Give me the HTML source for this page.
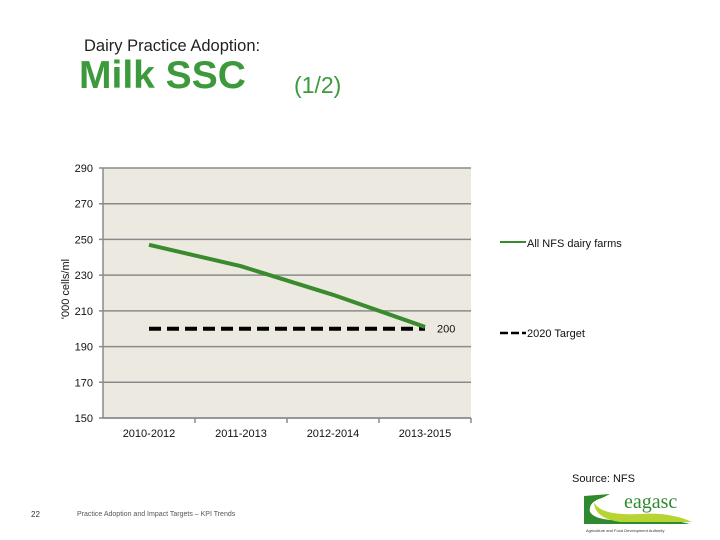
<!DOCTYPE html>
<html><head><meta charset="utf-8"><style>
body{margin:0;background:#fff;font-family:"Liberation Sans",sans-serif}
#wrap{position:relative;width:720px;height:540px;overflow:hidden}
.t{position:absolute;white-space:nowrap}
</style></head><body>
<div id="wrap">
<div class="t" style="left:84px;top:37px;font-size:16.5px;color:#222">Dairy Practice Adoption:</div>
<div class="t" style="left:79px;top:54px;font-size:39px;font-weight:bold;color:#3c9a3c">Milk SSC</div>
<div class="t" style="left:294px;top:72px;font-size:23px;color:#3c9a3c">(1/2)</div>
<svg id="chart" width="720" height="540" style="position:absolute;left:0;top:0"></svg>
<div class="t" style="left:572px;top:473px;font-size:11px;color:#111">Source: NFS</div>
<div class="t" style="left:31px;top:510px;font-size:8px;color:#333">22</div>
<div class="t" style="left:77px;top:511px;font-size:7px;color:#555">Practice Adoption and Impact Targets – KPI Trends</div>
<svg width="130" height="50" style="position:absolute;left:580px;top:488px">
<path d="M4 8 L30 6 L22 10 Q8 14 10 24 Q16 34 50 32 Q80 28 110 36 L4 36 Z" fill="#2f8a2f"/>
<path d="M14 14 Q20 28 60 26 Q90 24 112 34 L40 34 Q14 30 14 14Z" fill="#b8d432"/>
<text x="44" y="20" font-size="20" font-family="Liberation Serif,serif" fill="#2f8a2f">eagasc</text>
<text x="6" y="44" font-size="4" fill="#333">Agriculture and Food Development Authority</text>
</svg>
</div>
<script>
const categories=["2010-2012","2011-2013","2012-2014","2013-2015"];
const farmValues=[247,235,219,201];
const targetValues=[200,200,200,200];
const yTicks=[150,170,190,210,230,250,270,290];
const NS="http://www.w3.org/2000/svg";
const svg=document.getElementById('chart');
const X0=103,X1=471,Y0=418,Y1=168,YMIN=150,YMAX=290;
const y=v=>Y0-(v-YMIN)/(YMAX-YMIN)*(Y0-Y1);
const bw=(X1-X0)/categories.length;
const x=i=>X0+bw*(i+0.5);
function mk(t,a){const e=document.createElementNS(NS,t);for(const k in a)e.setAttribute(k,a[k]);svg.appendChild(e);return e;}
let e=mk('rect',{x:X0,y:Y1,width:X1-X0,height:Y0-Y1,fill:'#ece9e1'});


yTicks.forEach(v=>{
 let g=mk('line',{x1:X0-4,x2:X1,y1:y(v),y2:y(v),stroke:'#8a8a8a','stroke-width':1.5});
 
 
 let t=mk('text',{x:X0-10,y:y(v)+4,'text-anchor':'end','font-size':11,fill:'#111'});t.textContent=v;
 
 
});
mk('line',{x1:X0,x2:X0,y1:Y1,y2:Y0,stroke:'#8a8a8a','stroke-width':1.5});
mk('line',{x1:X0,x2:X1,y1:Y0,y2:Y0,stroke:'#8a8a8a','stroke-width':1.5});
categories.forEach((c,i)=>{
 mk('line',{x1:X0+bw*(i+1),x2:X0+bw*(i+1),y1:Y0,y2:Y0+5,stroke:'#8a8a8a','stroke-width':1.5});
 let t=mk('text',{x:x(i),y:Y0+19,'text-anchor':'middle','font-size':11,fill:'#111'});t.textContent=c;
 
 
});
let tl=mk('polyline',{points:targetValues.map((v,i)=>x(i)+','+y(v)).join(' '),fill:'none',stroke:'#000','stroke-width':4,'stroke-dasharray':'12 6'});


let fl=mk('polyline',{points:farmValues.map((v,i)=>x(i)+','+y(v)).join(' '),fill:'none',stroke:'#3a8a2e','stroke-width':4});


let lab=mk('text',{x:x(3)+12,y:y(targetValues[3])+4,'font-size':11,fill:'#111'});lab.textContent=targetValues[3];


let yt=mk('text',{x:0,y:0,'font-size':11,fill:'#111','text-anchor':'middle',transform:'translate(69,289) rotate(-90)'});yt.textContent="'000 cells/ml";


mk('line',{x1:500,x2:526,y1:242,y2:242,stroke:'#3a8a2e','stroke-width':2});
let l1=mk('text',{x:527,y:247,'font-size':11,fill:'#111'});l1.textContent='All NFS dairy farms';


mk('line',{x1:500,x2:526,y1:333,y2:333,stroke:'#000','stroke-width':2.5,'stroke-dasharray':'8 3'});
let l2=mk('text',{x:527,y:337,'font-size':11,fill:'#111'});l2.textContent='2020 Target';


</script>
</body></html>
